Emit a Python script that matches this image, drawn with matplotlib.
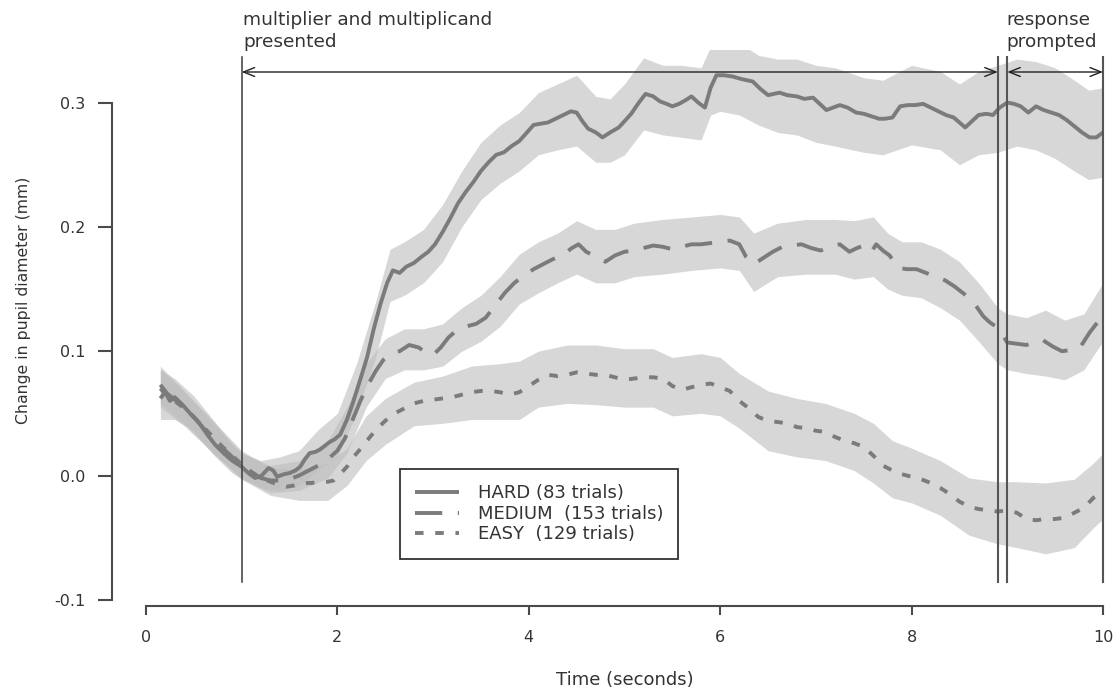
import numpy as np
import matplotlib
matplotlib.use("Agg")
import matplotlib.pyplot as plt

plt.rcParams['font.family'] = ['DejaVu Sans']

# ---------------- data ----------------
t_hard = [0.15,0.2,0.25,0.3,0.38,0.46,0.55,0.64,0.72,0.81,0.9,1.0,1.07,1.14,1.21,1.28,1.33,1.37,1.44,1.5,
          1.56,1.61,1.66,1.71,1.77,1.82,1.87,1.92,1.97,2.03,2.1,2.16,2.23,2.31,2.38,2.45,2.52,2.58,2.65,2.72,
          2.8,2.88,2.95,3.02,3.1,3.18,3.26,3.34,3.42,3.5,3.58,3.66,3.74,3.82,3.9,3.98,4.05,4.12,4.2,4.28,
          4.36,4.44,4.5,4.56,4.62,4.7,4.77,4.85,4.94,5.0,5.07,5.15,5.22,5.3,5.37,5.44,5.5,5.57,5.64,5.7,
          5.77,5.84,5.9,5.96,6.04,6.13,6.22,6.34,6.42,6.5,6.56,6.62,6.7,6.8,6.88,6.97,7.04,7.11,7.18,7.25,
          7.33,7.42,7.5,7.58,7.66,7.72,7.8,7.88,7.96,8.04,8.12,8.2,8.28,8.36,8.44,8.5,8.56,8.63,8.7,8.78,
          8.85,8.92,9.0,9.07,9.14,9.22,9.3,9.38,9.46,9.54,9.62,9.7,9.78,9.86,9.93,10.0]
hard = [0.062,0.067,0.060,0.063,0.057,0.050,0.043,0.033,0.025,0.018,0.012,0.007,0.002,-0.002,0.000,0.006,0.004,-0.001,0.001,0.002,
        0.004,0.007,0.013,0.018,0.019,0.021,0.024,0.027,0.029,0.033,0.045,0.058,0.075,0.095,0.118,0.138,0.155,0.165,0.163,0.168,
        0.171,0.176,0.180,0.186,0.196,0.207,0.219,0.228,0.236,0.245,0.252,0.258,0.260,0.265,0.269,0.276,0.282,0.283,0.284,0.287,
        0.290,0.293,0.292,0.285,0.279,0.276,0.272,0.276,0.280,0.285,0.291,0.300,0.307,0.305,0.301,0.299,0.297,0.299,0.302,0.305,
        0.300,0.296,0.312,0.322,0.322,0.321,0.319,0.317,0.311,0.306,0.307,0.308,0.306,0.305,0.303,0.304,0.299,0.294,0.296,0.298,
        0.296,0.292,0.291,0.289,0.287,0.287,0.288,0.297,0.298,0.298,0.299,0.296,0.293,0.290,0.288,0.284,0.280,0.285,0.290,0.291,
        0.290,0.296,0.300,0.299,0.297,0.292,0.297,0.294,0.292,0.290,0.286,0.281,0.276,0.272,0.272,0.276]

t_medium = [0.15,0.22,0.3,0.4,0.5,0.6,0.7,0.8,0.9,1.0,1.1,1.2,1.3,1.4,1.5,1.6,1.7,1.8,1.9,2.0,
            2.08,2.16,2.24,2.32,2.4,2.48,2.56,2.65,2.75,2.85,2.92,3.0,3.08,3.16,3.25,3.35,3.45,3.55,3.65,3.75,
            3.85,3.95,4.05,4.15,4.25,4.35,4.45,4.52,4.6,4.7,4.8,4.9,5.0,5.1,5.2,5.3,5.4,5.5,5.6,5.7,
            5.8,5.9,6.0,6.1,6.2,6.27,6.35,6.45,6.55,6.65,6.75,6.85,6.95,7.05,7.15,7.25,7.35,7.43,7.5,7.58,
            7.63,7.7,7.77,7.86,7.95,8.05,8.15,8.25,8.35,8.45,8.55,8.65,8.75,8.82,8.9,9.0,9.1,9.2,9.3,9.37,
            9.47,9.57,9.67,9.76,9.86,9.93,10.0]
medium = [0.073,0.066,0.061,0.055,0.047,0.038,0.030,0.022,0.015,0.008,0.002,-0.002,-0.004,-0.004,-0.003,0.000,0.004,0.008,0.013,0.020,
          0.030,0.045,0.060,0.073,0.084,0.093,0.098,0.100,0.105,0.103,0.099,0.097,0.103,0.111,0.117,0.120,0.122,0.127,0.137,0.147,
          0.155,0.161,0.166,0.170,0.174,0.177,0.183,0.186,0.180,0.176,0.172,0.177,0.180,0.181,0.183,0.185,0.184,0.182,0.184,0.186,
          0.186,0.187,0.188,0.189,0.186,0.176,0.170,0.175,0.180,0.184,0.185,0.186,0.183,0.181,0.184,0.186,0.180,0.183,0.185,0.180,
          0.186,0.181,0.177,0.167,0.166,0.166,0.163,0.160,0.157,0.152,0.146,0.139,0.128,0.123,0.119,0.107,0.106,0.105,0.108,0.109,
          0.104,0.100,0.101,0.103,0.115,0.122,0.128]

t_easy = [0.15,0.22,0.3,0.4,0.5,0.6,0.7,0.8,0.9,1.0,1.1,1.2,1.3,1.4,1.47,1.55,1.64,1.73,1.82,1.9,
          1.96,2.04,2.11,2.18,2.26,2.34,2.42,2.5,2.6,2.7,2.8,2.9,3.0,3.1,3.2,3.3,3.4,3.5,3.6,3.7,
          3.8,3.9,4.0,4.1,4.2,4.3,4.4,4.5,4.6,4.7,4.8,4.9,5.0,5.1,5.2,5.3,5.4,5.5,5.6,5.7,
          5.8,5.9,6.0,6.1,6.2,6.3,6.4,6.5,6.6,6.7,6.8,6.9,7.0,7.1,7.2,7.3,7.4,7.5,7.6,7.7,
          7.8,7.9,8.0,8.1,8.2,8.3,8.4,8.5,8.6,8.7,8.8,8.9,9.0,9.1,9.2,9.3,9.4,9.5,9.6,9.7,
          9.8,9.9,10.0]
easy = [0.070,0.064,0.060,0.054,0.047,0.039,0.031,0.023,0.016,0.009,0.003,-0.002,-0.005,-0.008,-0.009,-0.008,-0.006,-0.006,-0.005,-0.005,
        -0.004,0.002,0.008,0.016,0.023,0.031,0.038,0.044,0.050,0.054,0.058,0.060,0.061,0.062,0.063,0.065,0.067,0.068,0.068,0.067,
        0.065,0.067,0.072,0.077,0.081,0.080,0.081,0.083,0.082,0.081,0.081,0.079,0.077,0.078,0.079,0.079,0.078,0.072,0.069,0.071,
        0.073,0.074,0.071,0.068,0.060,0.054,0.047,0.044,0.043,0.042,0.039,0.038,0.036,0.035,0.031,0.028,0.026,0.023,0.016,0.008,
        0.004,0.001,-0.001,-0.003,-0.006,-0.010,-0.015,-0.021,-0.025,-0.027,-0.028,-0.029,-0.028,-0.030,-0.035,-0.036,-0.035,-0.035,-0.034,-0.030,
        -0.026,-0.018,-0.013]

# confidence bands (edges read from the grey regions)
band_hard_t = [0.15,0.3,0.5,0.7,0.9,1.0,1.2,1.4,1.6,1.8,2.0,2.2,2.4,2.55,2.7,2.9,3.1,3.3,3.5,3.7,3.9,4.1,4.3,4.5,4.7,4.85,
               5.0,5.2,5.4,5.6,5.8,5.9,6.0,6.2,6.4,6.6,6.8,7.0,7.2,7.5,7.7,8.0,8.3,8.5,8.7,8.9,9.1,9.3,9.5,9.7,9.85,10.0]
band_hard_lo = [0.045,0.045,0.036,0.017,0.002,-0.003,-0.010,-0.012,-0.008,0.005,0.015,0.050,0.095,0.140,0.145,0.155,0.172,0.200,0.222,0.235,0.245,0.258,0.262,0.265,0.252,0.252,
                0.258,0.278,0.274,0.272,0.270,0.290,0.293,0.290,0.282,0.276,0.274,0.268,0.265,0.260,0.258,0.266,0.262,0.250,0.258,0.260,0.265,0.262,0.255,0.245,0.238,0.240]
band_hard_hi = [0.085,0.078,0.064,0.045,0.025,0.018,0.012,0.015,0.020,0.037,0.050,0.090,0.140,0.182,0.188,0.198,0.218,0.245,0.268,0.282,0.292,0.308,0.315,0.322,0.305,0.303,
                0.315,0.336,0.330,0.330,0.328,0.345,0.352,0.348,0.338,0.335,0.335,0.330,0.328,0.320,0.318,0.330,0.325,0.315,0.325,0.330,0.335,0.333,0.328,0.318,0.310,0.312]

band_medium_t = [0.15,0.4,0.7,1.0,1.3,1.6,1.9,2.1,2.3,2.5,2.7,2.9,3.1,3.3,3.5,3.7,3.9,4.1,4.3,4.5,4.7,4.9,5.1,5.4,5.7,
                 6.0,6.2,6.35,6.6,6.9,7.2,7.4,7.6,7.75,7.9,8.1,8.3,8.5,8.7,8.9,9.0,9.2,9.4,9.6,9.8,10.0]
band_medium_lo = [0.058,0.042,0.018,-0.002,-0.014,-0.012,-0.002,0.018,0.055,0.078,0.085,0.085,0.088,0.100,0.108,0.120,0.138,0.147,0.155,0.162,0.155,0.155,0.160,0.162,0.165,
                  0.167,0.165,0.148,0.160,0.162,0.162,0.158,0.160,0.150,0.145,0.143,0.135,0.125,0.108,0.090,0.085,0.082,0.080,0.077,0.085,0.108]
band_medium_hi = [0.088,0.068,0.042,0.018,0.008,0.012,0.028,0.055,0.090,0.110,0.118,0.118,0.122,0.135,0.145,0.160,0.178,0.188,0.195,0.205,0.198,0.198,0.203,0.206,0.208,
                  0.210,0.208,0.195,0.203,0.206,0.206,0.205,0.208,0.195,0.188,0.188,0.182,0.172,0.155,0.135,0.130,0.127,0.133,0.125,0.130,0.155]

band_easy_t = [0.15,0.4,0.7,1.0,1.3,1.6,1.9,2.1,2.3,2.5,2.8,3.1,3.4,3.7,3.9,4.1,4.4,4.7,5.0,5.3,5.5,5.8,6.0,6.2,6.5,
               6.8,7.1,7.4,7.6,7.8,8.0,8.3,8.6,8.9,9.1,9.4,9.7,9.9,10.0]
band_easy_lo = [0.055,0.040,0.018,-0.003,-0.016,-0.020,-0.020,-0.008,0.012,0.025,0.040,0.042,0.045,0.045,0.045,0.055,0.058,0.057,0.055,0.055,0.048,0.050,0.048,0.038,0.020,
                0.015,0.012,0.004,-0.006,-0.018,-0.022,-0.032,-0.048,-0.055,-0.058,-0.063,-0.058,-0.042,-0.035]
band_easy_hi = [0.085,0.068,0.044,0.020,0.006,0.005,0.010,0.022,0.048,0.062,0.075,0.080,0.088,0.090,0.092,0.100,0.105,0.105,0.102,0.102,0.095,0.098,0.095,0.082,0.068,
                0.062,0.058,0.050,0.042,0.028,0.022,0.012,-0.002,-0.005,-0.005,-0.006,-0.003,0.010,0.018]

labels = ["HARD (83 trials)", "MEDIUM  (153 trials)", "EASY  (129 trials)"]
events = [1.0, 8.9, 9.0, 10.0]
x_ticks = [0, 2, 4, 6, 8, 10]
y_ticks = [-0.1, 0.0, 0.1, 0.2, 0.3]
y_ticklabels = ["-0.1", "0.0", "0.1", "0.2", "0.3"]

# ---------------- figure ----------------
W, H = 1115, 690
fig = plt.figure(figsize=(W / 100, H / 100), dpi=100)

L, R, T, B = 112, 1110, 50, 606
ax = fig.add_axes([L / W, 1 - B / H, (R - L) / W, (B - T) / H])
px_per_x = 95.7
x0_px = 146.0
y0_px = 475.5
px_per_y = 1243.0
ax.set_xlim((L - x0_px) / px_per_x, (R - x0_px) / px_per_x)
ax.set_ylim((y0_px - B) / px_per_y, (y0_px - T) / px_per_y)

line_c = '#7b7b7b'
band_c = '#bdbdbd'
txt_c = '#333333'
ax_c = '#4a4a4a'

for bt, lo, hi in [(band_easy_t, band_easy_lo, band_easy_hi),
                   (band_medium_t, band_medium_lo, band_medium_hi),
                   (band_hard_t, band_hard_lo, band_hard_hi)]:
    ax.fill_between(bt, lo, hi, color=band_c, alpha=0.6, lw=0, zorder=1)

lw = 2.8
l_hard, = ax.plot(t_hard, hard, color=line_c, lw=lw, solid_capstyle='butt', zorder=3, label=labels[0])
l_med, = ax.plot(t_medium, medium, color=line_c, lw=lw, dashes=(7, 4), dash_capstyle='butt', zorder=3, label=labels[1])
l_easy, = ax.plot(t_easy, easy, color=line_c, lw=lw, dashes=(2.2, 3.0), dash_capstyle='butt', zorder=3, label=labels[2])

# event lines
y_top = (y0_px - 57) / px_per_y
y_bot = (y0_px - 582) / px_per_y
for i, e in enumerate(events):
    ax.plot([e, e], [y_bot, y_top], color='#3a3a3a' if i == 0 else '#555555',
            lw=1.1 if i == 0 else 1.5, zorder=4, clip_on=False)

y_arr = (y0_px - 72) / px_per_y
arrow_kw = dict(arrowstyle='<->,head_length=0.8,head_width=0.32', lw=1.0, color='#222222',
                shrinkA=0, shrinkB=0)
ax.annotate('', xy=(events[1], y_arr), xytext=(events[0], y_arr), arrowprops=arrow_kw, zorder=5)
ax.annotate('', xy=(events[3], y_arr), xytext=(events[2], y_arr), arrowprops=arrow_kw, zorder=5)

fs_top = 13.3
fig.text(243 / W, 1 - 20 / H, "multiplier and multiplicand", ha='left', va='center', fontsize=fs_top, color=txt_c)
fig.text(243 / W, 1 - 42 / H, "presented", ha='left', va='center', fontsize=fs_top, color=txt_c)
fig.text(1006 / W, 1 - 20 / H, "response", ha='left', va='center', fontsize=fs_top, color=txt_c)
fig.text(1006 / W, 1 - 42 / H, "prompted", ha='left', va='center', fontsize=fs_top, color=txt_c)

# axes styling (R-like detached axes)
for s in ['top', 'right']:
    ax.spines[s].set_visible(False)
ax.spines['left'].set_bounds(-0.1, 0.3)
ax.spines['bottom'].set_bounds(0, 10)
for s in ['left', 'bottom']:
    ax.spines[s].set_color(ax_c)
    ax.spines[s].set_linewidth(1.5)
ax.set_xticks(x_ticks)
ax.set_xticklabels([str(v) for v in x_ticks])
ax.set_yticks(y_ticks)
ax.set_yticklabels(y_ticklabels)
fs_tick = 11.5
ax.tick_params(axis='x', length=6.5, width=1.5, color=ax_c, pad=11, labelsize=fs_tick, labelcolor=txt_c)
ax.tick_params(axis='y', length=10, width=1.5, color=ax_c, pad=9, labelsize=fs_tick, labelcolor=txt_c)

fig.text(625 / W, 1 - 680 / H, "Time (seconds)", ha='center', va='center', fontsize=13, color=txt_c)
fig.text(24 / W, 1 - 300 / H, "Change in pupil diameter (mm)", ha='center', va='center',
         rotation=90, fontsize=11.3, color=txt_c)

leg = ax.legend(handles=[l_hard, l_med, l_easy], loc='upper left',
                bbox_to_anchor=(400 / W, 1 - 469 / H), bbox_transform=fig.transFigure,
                fontsize=13, frameon=True, fancybox=False, framealpha=1,
                edgecolor='#333333', borderpad=0.85, handlelength=2.4, handletextpad=1.05,
                labelspacing=0.14, borderaxespad=0)
leg.get_frame().set_linewidth(1.3)
for t in leg.get_texts():
    t.set_color(txt_c)

fig.savefig('out.png', dpi=100)
